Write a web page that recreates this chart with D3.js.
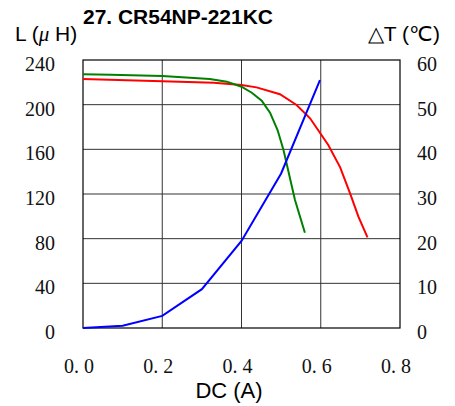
<!DOCTYPE html>
<html>
<head>
<meta charset="utf-8">
<script src="https://cdn.jsdelivr.net/npm/d3@7"></script>
<style>
  body { margin: 0; background: #fff; }
  .tick-label { font-family: "Liberation Serif", serif; font-size: 20px; fill: #111; }
  .sans { font-family: "Liberation Sans", Arial, sans-serif; fill: #000; }
</style>
</head>
<body>
<svg id="canvas" width="455" height="406"></svg>
<script>
// Chart data
const xTicks = [0, 0.2, 0.4, 0.6, 0.8];
const xTickLabels = ["0. 0", "0. 2", "0. 4", "0. 6", "0. 8"];
const lTicks = [0, 40, 80, 120, 160, 200, 240];
const tTicks = [0, 10, 20, 30, 40, 50, 60];

// Inductance curve (red), A -> uH
const redX = [0, 0.2, 0.33, 0.4, 0.438, 0.497, 0.539, 0.573, 0.619, 0.649, 0.674, 0.695, 0.718];
const redL = [223, 221, 219.7, 217.6, 215.5, 209.3, 199.7, 187.8, 163.9, 143.9, 120.6, 99.7, 81.2];

// Inductance curve (green), A -> uH
const greenX = [0, 0.07, 0.2, 0.32, 0.363, 0.4, 0.426, 0.451, 0.472, 0.491, 0.506, 0.535, 0.56];
const greenL = [227.2, 226.8, 225.7, 223, 220.6, 216.1, 210.7, 203.6, 192.8, 177.3, 159.4, 114.6, 85.3];

// Temperature rise (blue), A -> degC
const blueX = [0, 0.1, 0.2, 0.3, 0.4, 0.5, 0.598];
const blueT = [0, 0.5, 2.7, 8.7, 19.5, 34.6, 55.5];

const svg = d3.select("#canvas");
const [ml, mr, mt, mb] = [83, 400, 60, 328];

const x = d3.scaleLinear().domain([0, 0.8]).range([ml, mr]);
const yL = d3.scaleLinear().domain([0, 240]).range([mb, mt]);
const yT = d3.scaleLinear().domain([0, 60]).range([mb, mt]);

// Grid
svg.append("g")
  .selectAll("line")
  .data(xTicks.slice(1, -1))
  .enter()
  .append("line")
  .attr("x1", (d) => x(d))
  .attr("x2", (d) => x(d))
  .attr("y1", mt)
  .attr("y2", mb)
  .attr("stroke", "#333")
  .attr("stroke-width", 1);

svg.append("g")
  .selectAll("line")
  .data(lTicks.slice(1, -1))
  .enter()
  .append("line")
  .attr("x1", ml)
  .attr("x2", mr)
  .attr("y1", (d) => yL(d))
  .attr("y2", (d) => yL(d))
  .attr("stroke", "#333")
  .attr("stroke-width", 1);

// Frame
svg.append("rect")
  .attr("x", ml)
  .attr("y", mt)
  .attr("width", mr - ml)
  .attr("height", mb - mt)
  .attr("fill", "none")
  .attr("stroke", "#000")
  .attr("stroke-width", 1.2);

// Tick labels
svg.append("g")
  .selectAll("text")
  .data(lTicks)
  .enter()
  .append("text")
  .attr("class", "tick-label")
  .attr("x", 55)
  .attr("y", (d) => yL(d) + 11)
  .attr("text-anchor", "end")
  .text((d) => d);

svg.append("g")
  .selectAll("text")
  .data(tTicks)
  .enter()
  .append("text")
  .attr("class", "tick-label")
  .attr("x", 417)
  .attr("y", (d) => yT(d) + 11)
  .text((d) => d);

svg.append("g")
  .selectAll("text")
  .data(xTicks)
  .enter()
  .append("text")
  .attr("class", "tick-label")
  .attr("x", (d) => x(d) - 4)
  .attr("y", 373)
  .attr("text-anchor", "middle")
  .text((d, i) => xTickLabels[i]);

// Curves
const lineL = (xs, ys) =>
  d3.line().x((d) => x(d[0])).y((d) => yL(d[1]))(d3.zip(xs, ys));
const lineT = (xs, ys) =>
  d3.line().x((d) => x(d[0])).y((d) => yT(d[1]))(d3.zip(xs, ys));

svg.append("path")
  .attr("d", lineL(redX, redL))
  .attr("fill", "none")
  .attr("stroke", "#ff0000")
  .attr("stroke-width", 2);

svg.append("path")
  .attr("d", lineL(greenX, greenL))
  .attr("fill", "none")
  .attr("stroke", "#008000")
  .attr("stroke-width", 2);

svg.append("path")
  .attr("d", lineT(blueX, blueT))
  .attr("fill", "none")
  .attr("stroke", "#0000ff")
  .attr("stroke-width", 2);

// Titles
svg.append("text")
  .attr("class", "sans")
  .attr("x", 83)
  .attr("y", 24)
  .attr("font-size", 20)
  .attr("font-weight", "bold")
  .attr("textLength", 190)
  .attr("lengthAdjust", "spacingAndGlyphs")
  .text("27. CR54NP-221KC");

const lt = svg.append("text")
  .attr("class", "sans")
  .attr("x", 15)
  .attr("y", 41)
  .attr("font-size", 21);
lt.append("tspan").text("L (");
lt.append("tspan")
  .attr("font-family", "Liberation Serif, serif")
  .attr("font-style", "italic")
  .text("\u03bc");
lt.append("tspan").text(" H)");

svg.append("text")
  .attr("class", "sans")
  .attr("x", 440)
  .attr("y", 41)
  .attr("font-size", 21)
  .attr("text-anchor", "end")
  .text("\u25b3T (\u2103)");

svg.append("text")
  .attr("class", "sans")
  .attr("x", 229)
  .attr("y", 398)
  .attr("font-size", 22)
  .attr("text-anchor", "middle")
  .text("DC (A)");
</script>
</body>
</html>
